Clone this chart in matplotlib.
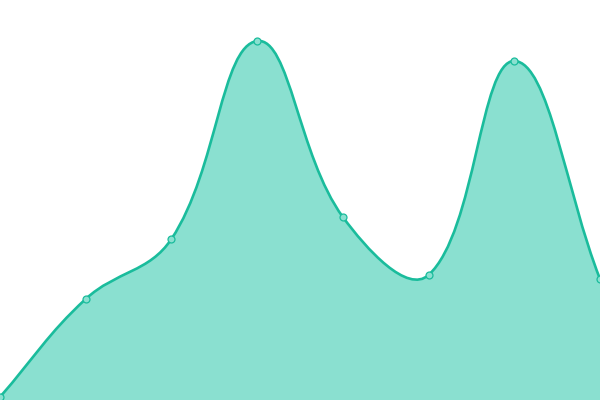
import numpy as np
import matplotlib
matplotlib.use("Agg")
import matplotlib.pyplot as plt
from matplotlib.path import Path
from matplotlib.patches import PathPatch

# values (0..400 scale, bottom = 0)
labels = ["A", "B", "C", "D", "E", "F", "G", "H"]
values = [3, 101, 161, 359, 183, 125, 339, 121]

line_color = "#1abc9c"
fill_color = "#8ae0d0"
tension = 0.4

W, H = 600, 400


def spline_controls(px, py, t):
    # bezier control points the way Chart.js builds its tension curves
    n = len(px)
    cps = []
    for i in range(n):
        x0, y0 = (px[i - 1], py[i - 1]) if i > 0 else (px[i], py[i])
        x2, y2 = (px[i + 1], py[i + 1]) if i < n - 1 else (px[i], py[i])
        x1, y1 = px[i], py[i]
        d01 = np.hypot(x1 - x0, y1 - y0)
        d12 = np.hypot(x2 - x1, y2 - y1)
        tot = d01 + d12
        s01 = d01 / tot if tot else 0
        s12 = d12 / tot if tot else 0
        fa, fb = t * s01, t * s12
        prev = (x1 - fa * (x2 - x0), y1 - fa * (y2 - y0))
        nxt = (x1 + fb * (x2 - x0), y1 + fb * (y2 - y0))
        cps.append((prev, nxt))
    return cps


fig = plt.figure(figsize=(6, 4), dpi=100)
ax = fig.add_axes([0, 0, 1, 1])
ax.set_xlim(0, W)
ax.set_ylim(0, H)
ax.axis("off")

n = len(values)
px = np.arange(n) * W / (n - 1)
py = np.array(values, float)
cps = spline_controls(px, py, tension)

verts = [(px[0], py[0])]
codes = [Path.MOVETO]
for i in range(n - 1):
    verts += [cps[i][1], cps[i + 1][0], (px[i + 1], py[i + 1])]
    codes += [Path.CURVE4] * 3

line_path = Path(verts, codes)
fill_path = Path(verts + [(px[-1], 0), (px[0], 0), (px[0], py[0])],
                 codes + [Path.LINETO, Path.LINETO, Path.CLOSEPOLY])

ax.add_patch(PathPatch(fill_path, facecolor=fill_color, edgecolor="none"))
ax.add_patch(PathPatch(line_path, facecolor="none", edgecolor=line_color,
                       linewidth=1.9, capstyle="round", joinstyle="round"))
ax.plot(px, py, "o", markersize=5, markerfacecolor=fill_color,
        markeredgecolor=line_color, markeredgewidth=0.9, clip_on=False)

fig.savefig("out.png", dpi=100)
